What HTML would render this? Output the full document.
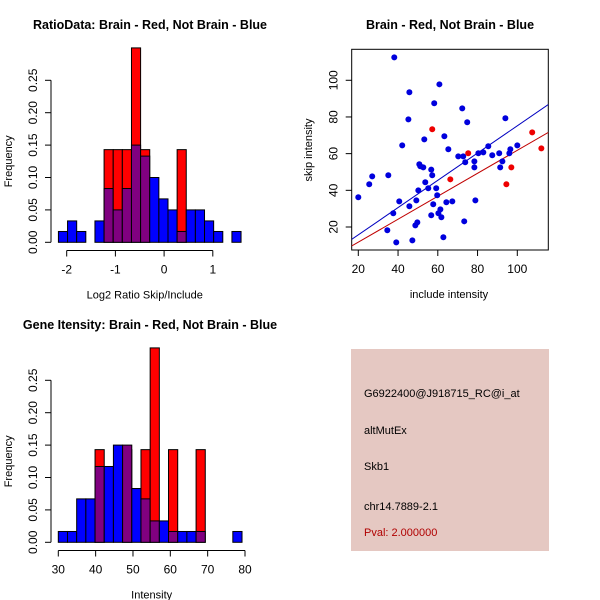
<!DOCTYPE html>
<html><head><meta charset="utf-8">
<style>
body{margin:0;background:#fff;}
svg{display:block;font-family:"Liberation Sans",sans-serif;}
</style></head>
<body>
<svg id="c" width="600" height="600" viewBox="0 0 600 600">
<rect width="600" height="600" fill="#fff"/>
<text x="150" y="29" text-anchor="middle" font-size="12.5" font-weight="bold">RatioData: Brain - Red, Not Brain - Blue</text>
<text x="450" y="29" text-anchor="middle" font-size="12.5" font-weight="bold">Brain - Red, Not Brain - Blue</text>
<text x="150" y="329" text-anchor="middle" font-size="12.5" font-weight="bold">Gene Itensity: Brain - Red, Not Brain - Blue</text>
<g id="p1"></g>
<g id="p2"></g>
<g id="p3"></g>
<g>
<rect x="351" y="349" width="198" height="202" fill="#e5c8c2"/>
<text x="364" y="397" font-size="11">G6922400@J918715_RC@i_at</text>
<text x="364" y="434" font-size="11">altMutEx</text>
<text x="364" y="470" font-size="11">Skb1</text>
<text x="364" y="510" font-size="11">chr14.7889-2.1</text>
<text x="364" y="536" font-size="11" fill="#b00000">Pval: 2.000000</text>
</g>
</svg>
<script>
// Ratio histogram data
const ratioBinStart = -2.17;
const ratioBinWidth = 0.1875;
const ratioBlue = [0.0167,0.033,0.0167,0,0.033,0.083,0.05,0.083,0.15,0.133,0.1,0.067,0.05,0.0167,0.05,0.05,0.033,0.0167,0,0.0167];
const ratioRed  = [0,0,0,0,0,0.143,0.143,0.143,0.3,0.143,0,0,0,0.143,0,0,0,0,0,0];
const ratioXTicks = [-2,-1,0,1];
// Intensity histogram data
const intBinStart = 30;
const intBinWidth = 2.46;
const intBlue = [0.0167,0.0167,0.067,0.067,0.117,0.117,0.15,0.15,0.083,0.067,0.033,0.033,0.0167,0.0167,0.0167,0.0167,0,0,0,0.0167];
const intRed  = [0,0,0,0,0.143,0,0,0.143,0,0.143,0.3,0,0.143,0,0,0.143,0,0,0,0];
const intXTicks = [30,40,50,60,70,80];
const freqTicks = [0,0.05,0.10,0.15,0.20,0.25];
// Scatter data
const blueX = [20,25.5,27,35.1,34.6,37.6,39.1,40.6,42.1,38.1,45.7,45.2,45.7,47.2,48.7,49.7,49.2,50.2,50.7,51.2,52.7,53.2,53.7,55.2,56.7,57.2,56.7,57.7,58.2,59.2,59.7,60.8,60.3,61.3,61.8,62.8,63.3,64.3,65.3,67.3,70.3,72.8,72.3,73.3,73.8,74.8,78.4,78.4,78.9,80.4,82.9,85.4,87.4,90.9,91.4,92.5,94,96,96.5,100];
const blueY = [36.2,43.3,47.6,48.2,18.2,27.5,11.6,34,64.5,112.5,93.5,78.7,31.3,12.7,20.9,22.5,34.5,40,54.2,53.1,52.5,67.8,44.4,41.1,51.3,48.2,26.4,32.4,87.5,41.1,37.3,97.8,27.5,29.6,25.3,14.4,69.5,33.5,62.4,34,58.5,58.5,84.7,23.1,55.3,77.1,55.8,52.5,34.5,60.2,60.7,64,59.1,60.2,52.5,55.8,79.3,60.2,62.4,64.5];
const redX = [57.2,66.3,75.3,97,94.5,107.5,112.1];
const redY = [73.3,46,60.2,52.5,43.3,71.6,62.9];
const blueFit = [0.87,0.743];   // intercept, slope
const redFit = [-0.8,0.626];
const scatXTicks = [20,40,60,80,100];
const scatYTicks = [20,40,60,80,100];

const NS="http://www.w3.org/2000/svg";
function mk(parent,tag,attrs){const e=document.createElementNS(NS,tag);for(const k in attrs)e.setAttribute(k,attrs[k]);parent.appendChild(e);return e;}

function hist(g,o){
  const sx=v=>o.x0+(v-o.d0)*o.kx;
  const sy=v=>o.y0-v*o.ky;
  for(let i=0;i<o.blue.length;i++){
    const a=sx(o.start+i*o.w), b=sx(o.start+(i+1)*o.w);
    const r=o.red[i], bl=o.blue[i];
    if(r>0){const e=mk(g,'rect',{x:a,y:sy(r),width:b-a,height:sy(0)-sy(r),fill:'#ff0000',stroke:'#000','stroke-width':1});
      
      }
    if(bl>0){const top=Math.max(bl,0);const col=r>0?'#800080':'#0000ff';
      const e=mk(g,'rect',{x:a,y:sy(top),width:b-a,height:sy(0)-sy(top),fill:col,stroke:'#000','stroke-width':1});
      
      }
  }
  // y axis
  const ya=mk(g,'line',{x1:o.yAxX,x2:o.yAxX,y1:sy(0),y2:sy(0.25),stroke:'#000'});
  
  
  freqTicks.forEach(t=>{
    mk(g,'line',{x1:o.yAxX-6,x2:o.yAxX,y1:sy(t),y2:sy(t),stroke:'#000'});
    const tx=mk(g,'text',{x:0,y:0,'font-size':12,'text-anchor':'middle',transform:`translate(${o.yAxX-14},${sy(t)}) rotate(-90)`});
    tx.textContent=t.toFixed(2);
    
    
  });
  const xa=mk(g,'line',{x1:sx(o.ticks[0]),x2:sx(o.ticks[o.ticks.length-1]),y1:o.xAxY,y2:o.xAxY,stroke:'#000'});
  
  
  o.ticks.forEach(t=>{
    mk(g,'line',{x1:sx(t),x2:sx(t),y1:o.xAxY,y2:o.xAxY+6,stroke:'#000'});
    const tx=mk(g,'text',{x:sx(t),y:o.xAxY+23,'font-size':12,'text-anchor':'middle'});
    tx.textContent=t;
    
    
  });
  const yl=mk(g,'text',{x:0,y:0,'font-size':11,'text-anchor':'middle',transform:`translate(12,${sy(0.125)}) rotate(-90)`});
  yl.textContent='Frequency';
  
  
  const xl=mk(g,'text',{x:sx((o.ticks[0]+o.ticks[o.ticks.length-1])/2)+o.xlOff,y:o.xAxY+48,'font-size':11,'text-anchor':'middle'});
  xl.textContent=o.xlab;
  
  
}
hist(document.getElementById('p1'),{x0:66.7,d0:-2,kx:48.7,y0:242.3,ky:648,start:ratioBinStart,w:ratioBinWidth,blue:ratioBlue,red:ratioRed,ticks:ratioXTicks,yAxX:51,xAxY:250.5,xlab:'Log2 Ratio Skip/Include',xlOff:5});
hist(document.getElementById('p3'),{x0:58.3,d0:30,kx:3.734,y0:542.3,ky:648,start:intBinStart,w:intBinWidth,blue:intBlue,red:intRed,ticks:intXTicks,yAxX:51,xAxY:550.5,xlab:'Intensity',xlOff:0});

(function(){
  const g=document.getElementById('p2');
  const L=351.7,R=548.3,T=49.3,B=250;
  const sx=v=>358.3+(v-20)*1.9875;
  const sy=v=>227-(v-20)*1.834;
  const box=mk(g,'rect',{x:L,y:T,width:R-L,height:B-T,fill:'none',stroke:'#000'});
  
  
  const clip=mk(g,'clipPath',{id:'sc'});mk(clip,'rect',{x:L,y:T,width:R-L,height:B-T});
  const gg=mk(g,'g',{'clip-path':'url(#sc)'});
  const x1=(L-358.3)/1.9875+20, x2=(R-358.3)/1.9875+20;
  [[blueFit,'#0000c0','blue-fit-line'],[redFit,'#c00000','red-fit-line']].forEach(([f,c,n])=>{
    const l=mk(gg,'line',{x1:sx(x1),y1:sy(f[0]+f[1]*x1),x2:sx(x2),y2:sy(f[0]+f[1]*x2),stroke:c,'stroke-width':1});
    
    
  });
  blueX.forEach((x,i)=>{const p=mk(gg,'circle',{cx:sx(x),cy:sy(blueY[i]),r:3,fill:'#0000dd'});
    
    });
  redX.forEach((x,i)=>{const p=mk(gg,'circle',{cx:sx(x),cy:sy(redY[i]),r:3,fill:'#ee0000'});
    
    });
  scatXTicks.forEach(t=>{
    mk(g,'line',{x1:sx(t),x2:sx(t),y1:B,y2:B+6,stroke:'#000'});
    const tx=mk(g,'text',{x:sx(t),y:B+23,'font-size':12,'text-anchor':'middle'});tx.textContent=t;
    
    
  });
  scatYTicks.forEach(t=>{
    mk(g,'line',{x1:L-6,x2:L,y1:sy(t),y2:sy(t),stroke:'#000'});
    const tx=mk(g,'text',{x:0,y:0,'font-size':12,'text-anchor':'middle',transform:`translate(${L-14},${sy(t)}) rotate(-90)`});tx.textContent=t;
    
    
  });
  const xl=mk(g,'text',{x:449,y:298,'font-size':11,'text-anchor':'middle'});xl.textContent='include intensity';
  
  
  const yl=mk(g,'text',{x:0,y:0,'font-size':11,'text-anchor':'middle',transform:`translate(312,150) rotate(-90)`});yl.textContent='skip intensity';
  
  
})();
</script>
</body></html>
